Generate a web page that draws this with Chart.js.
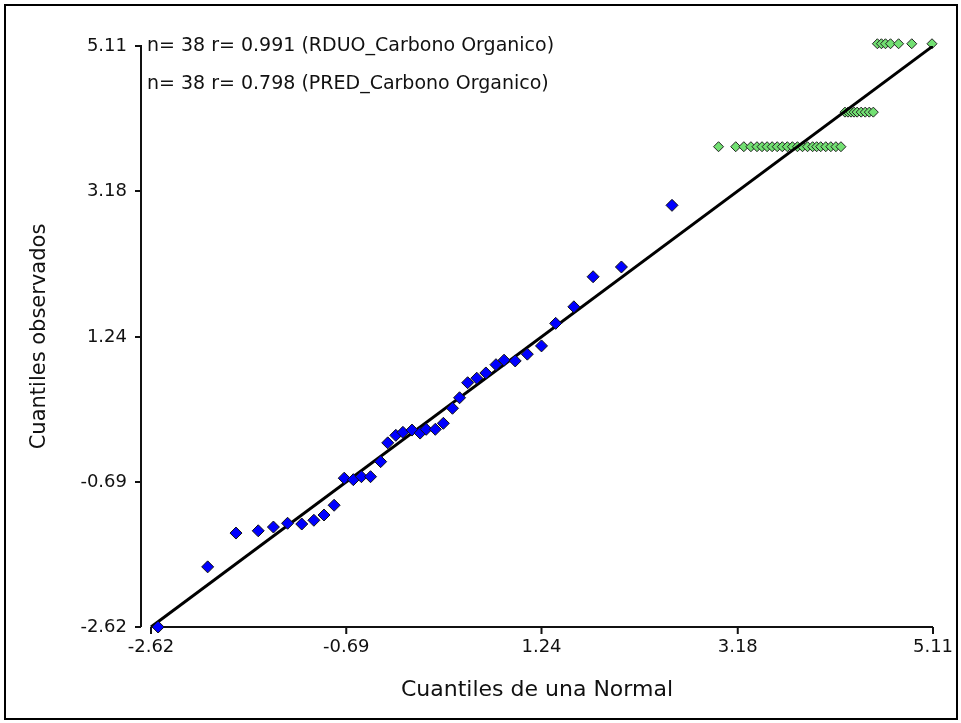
<!DOCTYPE html>
<html>
<head>
<meta charset="utf-8">
<script src="https://cdn.jsdelivr.net/npm/chart.js@4/dist/chart.umd.min.js"></script>
<style>
  body { margin: 0; background: #fff; }
  #frame { position: absolute; left: 4px; top: 4px; width: 950px; height: 712px; border: 2px solid #000; }
  #qq { position: absolute; left: 0; top: 0; }
</style>
</head>
<body>
<div id="frame"></div>
<canvas id="qq" width="961" height="723"></canvas>
<script>
// tick positions shared by both axes
var tickValues = [-2.62, -0.69, 1.24, 3.18, 5.11];
var tickLabels = ['-2.62', '-0.69', '1.24', '3.18', '5.11'];

// RDUO_Carbono Organico (blue)
var rduoX = [-2.55, -2.06, -1.78, -1.56, -1.41, -1.27, -1.13, -1.01, -0.91, -0.81,
             -0.71, -0.62, -0.54, -0.45, -0.35, -0.28, -0.20, -0.13, -0.04, 0.04,
             0.10, 0.19, 0.27, 0.36, 0.43, 0.51, 0.60, 0.69, 0.79, 0.87,
             0.98, 1.10, 1.24, 1.38, 1.56, 1.75, 2.03, 2.53];
var rduoY = [-2.62, -1.82, -1.37, -1.34, -1.29, -1.24, -1.25, -1.20, -1.13, -1.00,
             -0.64, -0.66, -0.62, -0.62, -0.42, -0.17, -0.07, -0.03, 0.00, -0.04,
             0.01, 0.01, 0.09, 0.29, 0.43, 0.63, 0.69, 0.76, 0.87, 0.93,
             0.92, 1.01, 1.12, 1.42, 1.64, 2.04, 2.17, 2.99];

// PRED_Carbono Organico (green)
var predX = [2.99, 3.16, 3.24, 3.31, 3.37, 3.42, 3.47, 3.52, 3.57, 3.62, 3.67,
             3.72, 3.77, 3.82, 3.87, 3.92, 3.96, 4.00, 4.05, 4.10, 4.15, 4.20,
             4.24, 4.27, 4.30, 4.33, 4.36, 4.40, 4.44, 4.48, 4.52,
             4.56, 4.60, 4.64, 4.69, 4.77, 4.90, 5.10];
var predY = [3.77, 3.77, 3.77, 3.77, 3.77, 3.77, 3.77, 3.77, 3.77, 3.77, 3.77,
             3.77, 3.77, 3.77, 3.77, 3.77, 3.77, 3.77, 3.77, 3.77, 3.77, 3.77,
             4.23, 4.23, 4.23, 4.23, 4.23, 4.23, 4.23, 4.23, 4.23,
             5.14, 5.14, 5.14, 5.14, 5.14, 5.14, 5.14];

// reference line y = x
var lineX = [-2.62, 5.11];
var lineY = [-2.62, 5.11];

var legendLines = [
    'n= 38 r= 0.991 (RDUO_Carbono Organico)',
    'n= 38 r= 0.798 (PRED_Carbono Organico)'
];

var FONT = "'DejaVu Sans', Verdana, sans-serif";

function pts(xs, ys) {
    return xs.map(function (x, i) { return { x: x, y: ys[i] }; });
}

function setTicks(scale) {
    scale.ticks = tickValues.map(function (v) { return { value: v }; });
}

var axesPlugin = {
    id: 'axes',
    beforeDatasetsDraw: function (chart) {
        var c = chart.ctx, xs = chart.scales.x, ys = chart.scales.y;
        var x0 = xs.getPixelForValue(tickValues[0]);
        var x1 = xs.getPixelForValue(tickValues[tickValues.length - 1]);
        var yb = ys.getPixelForValue(tickValues[0]);
        var yt = ys.getPixelForValue(tickValues[tickValues.length - 1]);
        var ax = chart.chartArea.left;
        c.save();
        c.strokeStyle = '#111';
        c.lineWidth = 2;
        c.beginPath();
        c.moveTo(ax, yt - 1); c.lineTo(ax, yb);
        c.moveTo(x0, yb); c.lineTo(x1, yb);
        tickValues.forEach(function (v) {
            var py = ys.getPixelForValue(v);
            c.moveTo(ax - 6, py); c.lineTo(ax, py);
            var px = xs.getPixelForValue(v);
            c.moveTo(px, yb); c.lineTo(px, yb + 7);
        });
        c.stroke();
        c.restore();
    },
    afterDraw: function (chart) {
        var c = chart.ctx;
        c.save();
        c.fillStyle = '#111';
        c.font = '19px ' + FONT;
        c.textBaseline = 'middle';
        legendLines.forEach(function (t, i) {
            c.fillText(t, chart.chartArea.left + 6, 46 + i * 38);
        });
        c.restore();
    }
};

var ctx = document.getElementById('qq').getContext('2d');
var chart = new Chart(ctx, {
    type: 'scatter',
    data: {
        datasets: [{
            label: legendLines[0],
            data: pts(rduoX, rduoY),
            pointStyle: 'rectRot',
            pointRadius: 6,
            backgroundColor: '#0000ff',
            borderColor: '#111',
            borderWidth: 1,
            clip: false,
            order: 0
        }, {
            type: 'line',
            label: 'ref',
            data: pts(lineX, lineY),
            borderColor: '#000',
            borderWidth: 3,
            pointRadius: 0,
            fill: false,
            order: 1
        }, {
            label: legendLines[1],
            data: pts(predX, predY),
            pointStyle: 'rectRot',
            pointRadius: 5,
            backgroundColor: '#72e072',
            borderColor: '#222',
            borderWidth: 1,
            clip: false,
            order: 2
        }]
    },
    options: {
        responsive: false,
        animation: false,
        layout: { padding: { left: 0, right: 28, top: 46, bottom: 0 } },
        plugins: { legend: { display: false }, tooltip: { enabled: false } },
        scales: {
            x: {
                type: 'linear',
                min: -2.719,
                max: 5.11,
                afterBuildTicks: setTicks,
                afterFit: function (s) { s.height = 96; },
                grid: { display: false },
                border: { display: false },
                ticks: {
                    padding: 2,
                    color: '#111',
                    font: { family: FONT, size: 18 },
                    callback: function (v, i) { return tickLabels[i]; }
                },
                title: {
                    display: true,
                    text: 'Cuantiles de una Normal',
                    color: '#111',
                    font: { family: FONT, size: 22 },
                    padding: { top: 0, bottom: 20 }
                }
            },
            y: {
                type: 'linear',
                min: -2.62,
                max: 5.11,
                afterBuildTicks: setTicks,
                afterFit: function (s) { s.width = 141; },
                grid: { display: false },
                border: { display: false },
                ticks: {
                    padding: 6,
                    color: '#111',
                    font: { family: FONT, size: 18 },
                    callback: function (v, i) { return tickLabels[i]; }
                },
                title: {
                    display: true,
                    text: 'Cuantiles observados',
                    color: '#111',
                    font: { family: FONT, size: 21 },
                    padding: { top: 27, bottom: 0 }
                }
            }
        }
    },
    plugins: [axesPlugin]
});
</script>
</body>
</html>
